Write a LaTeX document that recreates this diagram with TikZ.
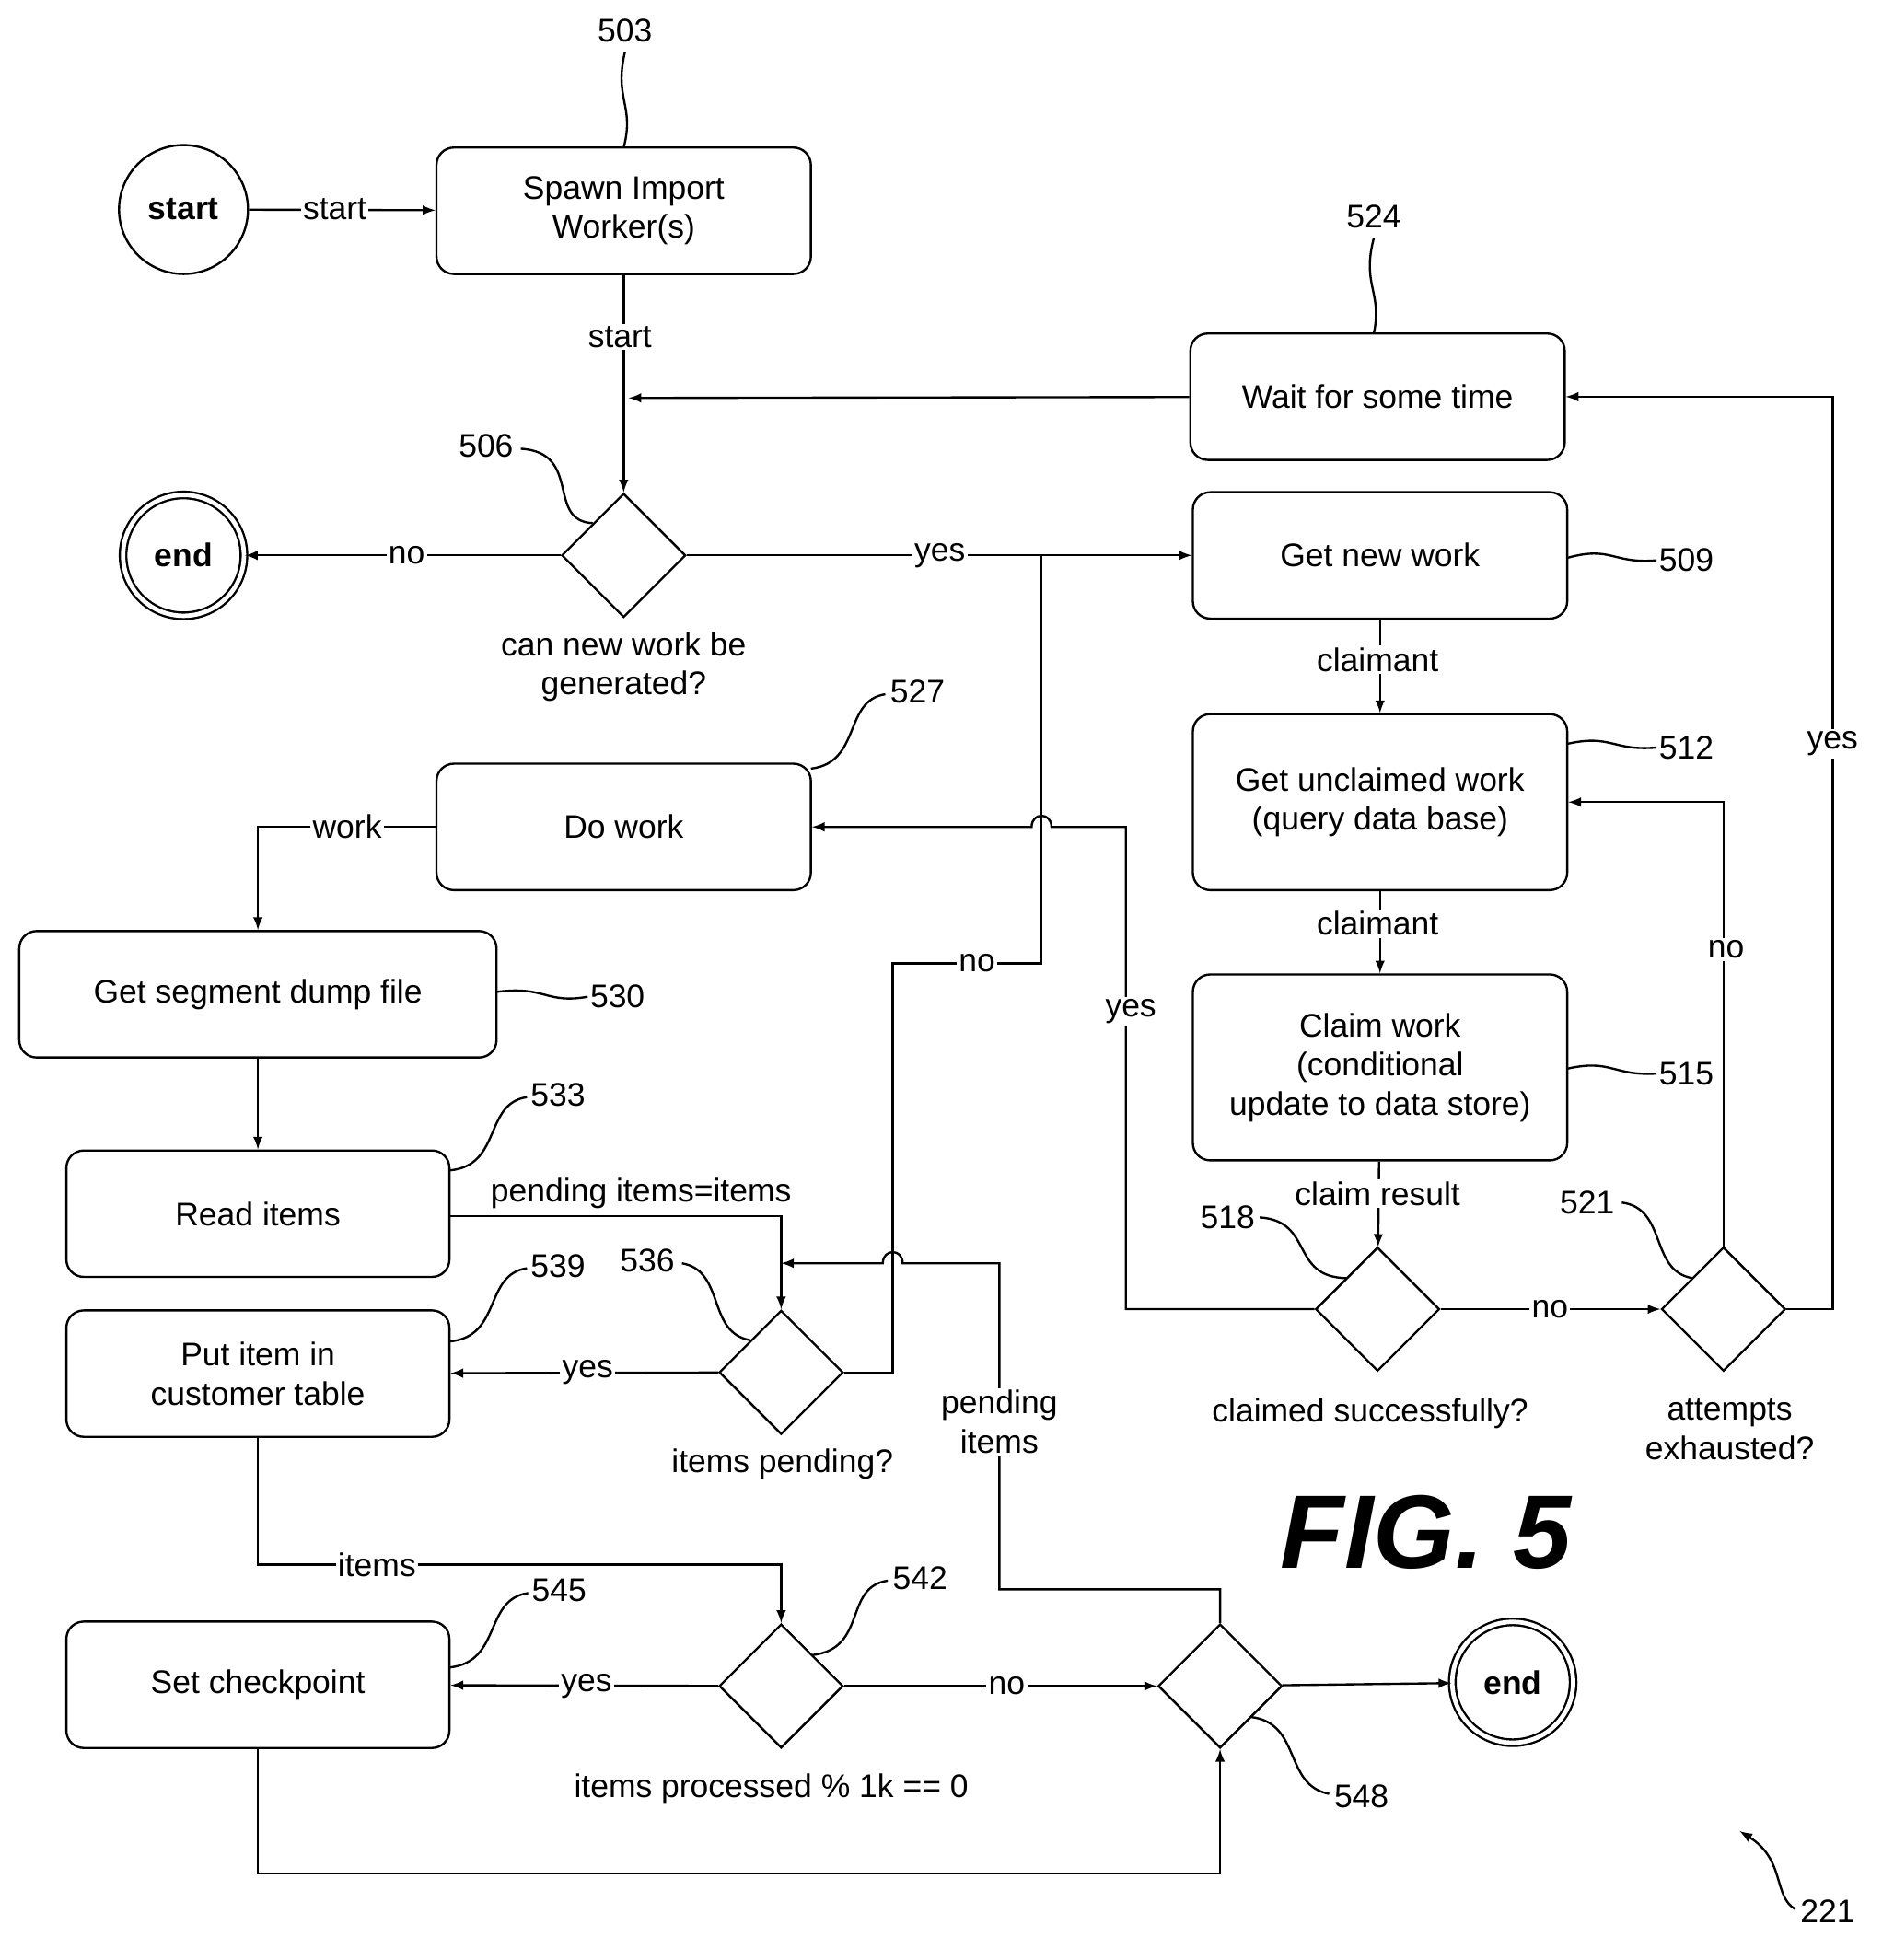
\documentclass[tikz,border=0pt]{standalone}
\usepackage{fontspec}
\setmainfont{Liberation Sans}
\usetikzlibrary{shapes,arrows,positioning}

\begin{document}
\begin{tikzpicture}[x=0.02cm,y=-0.02cm,>=latex,line width=1pt,
    font=\fontsize{15}{18}\selectfont,
    box/.style={draw,rounded corners=8pt,minimum width=6.04cm,minimum height=2.04cm,align=center},
    dia/.style={draw,diamond,minimum size=2cm,inner sep=0pt},
    lbl/.style={fill=white,inner sep=1pt},
    txt/.style={align=center}]
    \useasboundingbox (0,0) rectangle (1527,1581);

    % Terminals
    \node[draw,circle,minimum size=2.08cm,font=\fontsize{15}{18}\selectfont\bfseries] (start) at (148,169) {start};
    \node[draw,circle,double,double distance=2pt,minimum size=1.95cm,font=\fontsize{15}{18}\selectfont\bfseries] (endA) at (148,448) {end};
    \node[draw,circle,double,double distance=2pt,minimum size=1.95cm,font=\fontsize{15}{18}\selectfont\bfseries] (endB) at (1220,1357) {end};

    % Process boxes
    \node[box] (spawn) at (503,170) {Spawn Import\\Worker(s)};
    \node[box] (waitt) at (1111,320) {Wait for some time};
    \node[box] (gnw) at (1113,448) {Get new work};
    \node[box,minimum height=2.84cm] (guw) at (1113,647) {Get unclaimed work\\(query data base)};
    \node[box,minimum height=3cm] (claim) at (1113,861) {Claim work\\(conditional\\update to data store)};
    \node[box] (dowork) at (503,667) {Do work};
    \node[box,minimum width=7.7cm] (seg) at (208,802) {Get segment dump file};
    \node[box,minimum width=6.18cm] (read) at (208,979) {Read items};
    \node[box,minimum width=6.18cm] (put) at (208,1108) {Put item in\\customer table};
    \node[box,minimum width=6.18cm] (setcp) at (208,1359) {Set checkpoint};

    % Decisions
    \node[dia] (d506) at (503,448) {};
    \node[dia] (d518) at (1111,1056) {};
    \node[dia] (d521) at (1390,1056) {};
    \node[dia] (d536) at (630,1107) {};
    \node[dia] (d542) at (630,1360) {};
    \node[dia] (d548) at (984,1360) {};

    % Decision texts
    \node[txt] at (503,538) {can new work be\\generated?};
    \node[txt] at (631,1181) {items pending?};
    \node[txt] at (622,1443) {items processed \% 1k == 0};
    \node[txt] at (1105,1140) {claimed successfully?};
    \node[txt] at (1395,1153) {attempts\\exhausted?};

    % Connectors
    \draw[->] (start) -- (spawn);
    \draw[->] (spawn) -- (d506);
    \draw[->] (waitt) -- (507,321);
    \draw[->] (d506) -- (endA);
    \draw[->] (d506) -- (gnw);
    \draw[->] (gnw) -- (guw);
    \draw[->] (guw) -- (claim);
    \draw[->] (claim) -- (d518);
    \draw[->] (d518) -- (d521);
    \draw[->] (d521.north) |- (guw.east);
    \draw[->] (d521.east) -- (1478,1056) |- (waitt.east);
    \draw[->] (d518.west) -- (908,1056) -- (908,667) -- (848,667)
        .. controls (848,655) and (832,655) .. (832,667) -- (dowork.east);
    \draw (840,448) -- (840,777) -- (720,777) -- (720,1107) -- (d536.east);
    \draw[->] (dowork.west) -| (seg.north);
    \draw[->] (seg) -- (read);
    \draw[->] (read.east |- 0,981) -| (d536.north);
    \draw[->] (d536) -- (put);
    \draw[->] (put.south) |- (630,1262) -- (d542.north);
    \draw[->] (d542) -- (setcp);
    \draw[->] (d542) -- (d548);
    \draw[->] (d548) -- (endB);
    \draw[->] (setcp.south) |- (984,1511) -- (d548.south);
    \draw[->] (d548.north) |- (806,1282) -- (806,1019) -- (728,1019)
        .. controls (728,1007) and (712,1007) .. (712,1019) -- (630,1019);

    % Connector labels
    \node[lbl] at (270,169) {start};
    \node[lbl] at (500,272) {start};
    \node[lbl] at (328,448) {no};
    \node[lbl] at (758,448) {yes};
    \node[lbl] at (1111,532) {claimant};
    \node[lbl] at (1111,745) {claimant};
    \node[lbl] at (1111,963) {claim result};
    \node[lbl] at (1250,1056) {no};
    \node[lbl] at (1392,766) {no};
    \node[lbl] at (1478,600) {yes};
    \node[lbl] at (912,816) {yes};
    \node[lbl] at (788,777) {no};
    \node[lbl] at (280,667) {work};
    \node[lbl] at (517,963) {pending items=items};
    \node[lbl] at (474,1107) {yes};
    \node[lbl] at (304,1262) {items};
    \node[lbl] at (473,1360) {yes};
    \node[lbl] at (812,1360) {no};
    \node[lbl,align=center] at (806,1147) {pending\\items};

    % Reference numerals
    \node (n503) at (504,25) {503};
    \draw (504,42) .. controls (495,80) and (512,85) .. (503,119);
    \node (n524) at (1108,175) {524};
    \draw (1108,192) .. controls (1098,230) and (1115,235) .. (1108,269);
    \node (n506) at (392,360) {506};
    \draw (420,362) .. controls (470,365) and (440,420) .. (478,422);
    \node (n509) at (1360,452) {509};
    \draw (1264,450) .. controls (1300,440) and (1300,455) .. (1336,452);
    \node (n512) at (1360,603) {512};
    \draw (1264,600) .. controls (1300,592) and (1300,606) .. (1336,603);
    \node (n515) at (1360,866) {515};
    \draw (1264,862) .. controls (1300,854) and (1300,868) .. (1336,866);
    \node (n518) at (990,982) {518};
    \draw (1016,982) .. controls (1060,985) and (1040,1030) .. (1086,1031);
    \node (n521) at (1280,970) {521};
    \draw (1308,970) .. controls (1345,975) and (1330,1025) .. (1365,1031);
    \node (n527) at (740,558) {527};
    \draw (714,560) .. controls (680,565) and (695,615) .. (654,620);
    \node (n530) at (498,804) {530};
    \draw (401,800) .. controls (440,795) and (440,810) .. (474,804);
    \node (n533) at (450,883) {533};
    \draw (425,885) .. controls (390,890) and (405,940) .. (363,944);
    \node (n539) at (450,1021) {539};
    \draw (425,1023) .. controls (390,1028) and (405,1078) .. (363,1082);
    \node (n536) at (522,1017) {536};
    \draw (550,1019) .. controls (585,1025) and (570,1075) .. (605,1081);
    \node (n545) at (451,1283) {545};
    \draw (426,1285) .. controls (390,1290) and (405,1340) .. (363,1345);
    \node (n542) at (742,1273) {542};
    \draw (716,1275) .. controls (680,1280) and (700,1330) .. (655,1335);
    \node (n548) at (1098,1449) {548};
    \draw (1072,1447) .. controls (1035,1440) and (1050,1390) .. (1009,1385);
    \node (n221) at (1474,1542) {221};
    \draw[->] (1448,1540) .. controls (1430,1530) and (1440,1500) .. (1403,1477);

    % Figure title
    \node[font=\fontsize{48}{52}\selectfont\bfseries\itshape] at (1150,1236) {FIG. 5};
\end{tikzpicture}
\end{document}
